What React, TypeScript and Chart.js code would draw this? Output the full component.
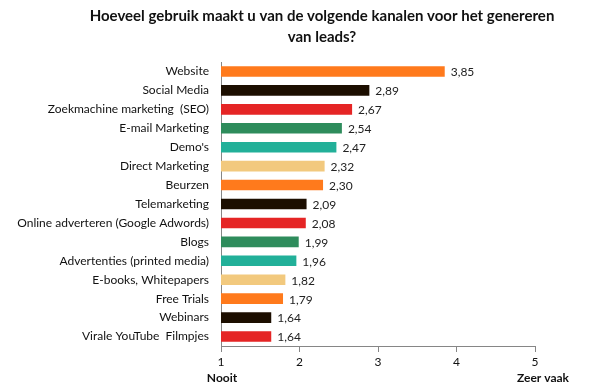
import React, { useEffect, useRef } from "react";
import { Chart, registerables } from "chart.js";

Chart.register(...registerables);

const categories = [
  "Website",
  "Social Media",
  "Zoekmachine marketing  (SEO)",
  "E-mail Marketing",
  "Demo's",
  "Direct Marketing",
  "Beurzen",
  "Telemarketing",
  "Online adverteren (Google Adwords)",
  "Blogs",
  "Advertenties (printed media)",
  "E-books, Whitepapers",
  "Free Trials",
  "Webinars",
  "Virale YouTube  Filmpjes",
];
const values = [3.85, 2.89, 2.67, 2.54, 2.47, 2.32, 2.3, 2.09, 2.08, 1.99, 1.96, 1.82, 1.79, 1.64, 1.64];
const palette = ["#FF7A1C", "#1C0E00", "#E52525", "#2E8C5C", "#22B099", "#F2C97E"];
const titleLines = ["Hoeveel gebruik maakt u van de volgende kanalen voor het genereren", "van leads?"];
const axisMin = 1;
const axisMax = 5;
const lowLabel = "Nooit";
const highLabel = "Zeer vaak";

const FONT = "Lato, 'Noto Sans', sans-serif";

const extrasPlugin = {
  id: "extras",
  afterDraw(chart: any) {
    const ctx = chart.ctx;
    const x = chart.scales.x;
    const meta = chart.getDatasetMeta(0);
    ctx.save();
    // title
    ctx.fillStyle = "#111";
    ctx.font = `bold 15px ${FONT}`;
    ctx.textAlign = "center";
    ctx.textBaseline = "middle";
    titleLines.forEach((t, i) => ctx.fillText(t, 322, 16 + i * 21));
    // value labels
    ctx.font = `12px ${FONT}`;
    ctx.textAlign = "left";
    ctx.fillStyle = "#222";
    meta.data.forEach((bar: any, i: number) => {
      ctx.fillText(values[i].toFixed(2).replace(".", ","), bar.x + 6, bar.y + 1);
    });
    // axis end labels
    ctx.font = `bold 12px ${FONT}`;
    ctx.textAlign = "center";
    ctx.fillStyle = "#111";
    ctx.fillText(lowLabel, x.getPixelForValue(axisMin) + 1, 378);
    ctx.fillText(highLabel, x.getPixelForValue(axisMax) + 8, 378);
    ctx.restore();
  },
};

export default function App() {
  const ref = useRef<HTMLCanvasElement>(null);
  useEffect(() => {
    document.body.style.margin = "0";
    const chart = new Chart(ref.current!, {
      type: "bar",
      data: {
        labels: categories,
        datasets: [
          {
            data: values,
            backgroundColor: values.map((_, i) => palette[i % palette.length]),
            categoryPercentage: 1,
            barPercentage: 0.56,
          },
        ],
      },
      options: {
        indexAxis: "y",
        animation: false,
        responsive: false,
        layout: { padding: { top: 62, right: 56, left: 0, bottom: 0 } },
        plugins: { legend: { display: false }, tooltip: { enabled: false }, title: { display: false } },
        scales: {
          x: {
            min: axisMin,
            max: axisMax,
            ticks: { stepSize: 1, color: "#111", font: { family: FONT, size: 12 }, padding: 3 },
            grid: { drawOnChartArea: false, drawTicks: true, tickLength: 6, color: "#868686" },
            border: { color: "#868686", width: 1 },
            afterFit: (s: any) => {
              s.height = 45;
            },
          },
          y: {
            ticks: { color: "#111", font: { family: FONT, size: 12 }, padding: 12 },
            grid: { display: false, drawTicks: false },
            border: { color: "#868686", width: 1 },
            afterFit: (s: any) => {
              s.width = 221;
            },
          },
        },
      },
      plugins: [extrasPlugin],
    });
    return () => chart.destroy();
  }, []);
  return (
    <div style={{ width: 591, height: 391 }}>
      <canvas ref={ref} width={591} height={391} />
    </div>
  );
}
